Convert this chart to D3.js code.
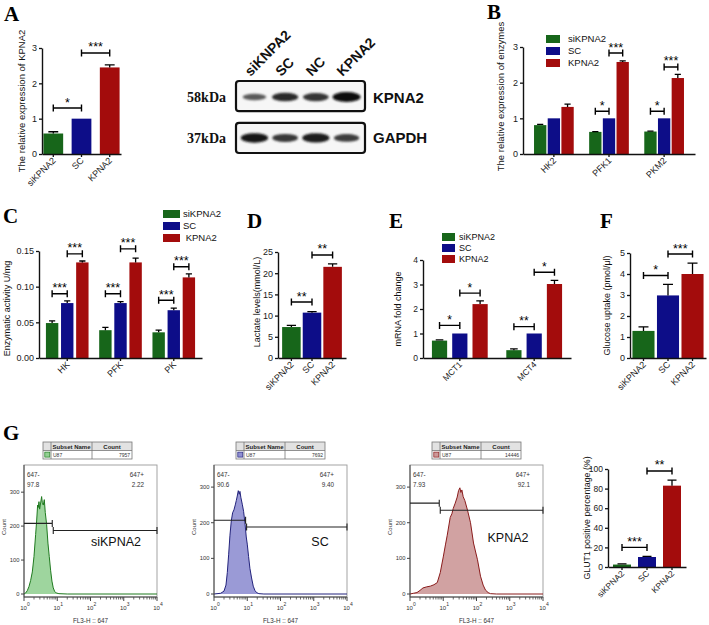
<!DOCTYPE html>
<html><head><meta charset="utf-8">
<script src="https://cdn.jsdelivr.net/npm/d3@7"></script>
<style>
body{margin:0;background:#fff}
svg{display:block}
</style></head><body>
<svg id="fig" width="709" height="625"></svg>
<script>
// ---------------- DATA ----------------
const seriesNames = ["siKPNA2","SC","KPNA2"];

// A
const catsA = ["siKPNA2","SC","KPNA2"];
const valsA = [0.58,1.0,2.45];
const errsA = [0.05,0,0.07];
const ticksA = [0,1,2,3];
const sigA = [[0,1,1.3,"*"],[1,2,2.86,"***"]];

// Blot
const blotLanes = ["siKNPA2","SC","NC","KPNA2"];
const blotRows = ["KPNA2","GAPDH"];
const blotMarkers = ["58kDa","37kDa"];
const bandKPNA2 = [0.45,0.78,0.72,1.0];
const bandGAPDH = [0.92,0.7,0.9,0.66];

// B
const genesB = ["HK2","PFK1","PKM2"];
const siB = [0.81,0.62,0.63], scB = [1,1,1], kpB = [1.32,2.58,2.13];
const siErrB = [0.02,0.01,0.01], scErrB = [0,0,0], kpErrB = [0.08,0.03,0.1];
const ticksB = [0,1,2,3];
const sigB = [[1,0,1,1.2,"*"],[1,1,2,2.83,"***"],[2,0,1,1.2,"*"],[2,1,2,2.44,"***"]];

// C
const enzC = ["HK","PFK","PK"];
const siC = [0.049,0.039,0.036], scC = [0.077,0.077,0.067], kpC = [0.134,0.134,0.113];
const siErrC = [0.003,0.004,0.003], scErrC = [0.003,0.002,0.003], kpErrC = [0.002,0.006,0.005];
const ticksC = [0,0.05,0.10,0.15];
const sigC = [[0,0,1,0.09,"***"],[0,1,2,0.146,"***"],[1,0,1,0.09,"***"],[1,1,2,0.153,"***"],[2,0,1,0.081,"***"],[2,1,2,0.128,"***"]];

// D
const catsD = ["siKPNA2","SC","KPNA2"];
const valsD = [7.3,10.7,21.5];
const errsD = [0.4,0.25,0.7];
const ticksD = [0,5,10,15,20,25];
const sigD = [[0,1,13.2,"**"],[1,2,24.3,"**"]];

// E
const genesE = ["MCT1","MCT4"];
const siE = [0.71,0.32], scE = [1.0,1.0], kpE = [2.2,3.02];
const siErrE = [0.03,0.05], scErrE = [0,0], kpErrE = [0.13,0.15];
const ticksE = [0,1,2,3,4];
const sigE = [[0,0,1,1.33,"*"],[0,1,2,2.65,"*"],[1,0,1,1.28,"**"],[1,1,2,3.5,"*"]];

// F
const catsF = ["siKPNA2","SC","KPNA2"];
const valsF = [1.29,2.98,4.0];
const errsF = [0.19,0.53,0.52];
const ticksF = [0,1,2,3,4,5];
const sigF = [[0,1,3.93,"*"],[1,2,4.95,"***"]];

// G flow cytometry
const flowSamples = ["siKPNA2","SC","KPNA2"];
const flowCounts = ["7957","7692","14446"];
const flowNeg = ["97.8","90.6","7.93"];
const flowPos = ["2.22","9.40","92.1"];
const flowYMax = [380,362,362];
const flowYTicks = [0,100,200,300];
const flowXTicks = [1,10,100,1000,10000];
const gateNegY = [208,207,255];
const gatePosY = [187,188,235];
const gateSplit = [0.85,0.95,0.88];
const histSi = [[0,0],[0.05,3],[0.1,10],[0.15,22],[0.2,40],[0.25,65],[0.3,110],[0.35,175],[0.38,215],[0.41,262],[0.43,255],[0.45,272],[0.47,250],[0.5,268],[0.53,287],[0.55,270],[0.58,262],[0.61,278],[0.64,240],[0.68,205],[0.72,150],[0.76,110],[0.8,70],[0.84,38],[0.88,18],[0.92,8],[0.97,3],[1.05,1],[1.3,0],[4,0]];
const histSC = [[0,0],[0.2,2],[0.3,8],[0.36,25],[0.4,60],[0.44,110],[0.48,165],[0.52,205],[0.56,228],[0.6,236],[0.64,250],[0.67,262],[0.7,275],[0.73,290],[0.76,280],[0.78,288],[0.81,270],[0.85,252],[0.89,232],[0.93,200],[0.97,160],[1.0,140],[1.04,105],[1.08,72],[1.13,45],[1.18,22],[1.23,10],[1.28,4],[1.35,1],[1.5,0],[4,0]];
const histKP = [[0,0],[0.1,2],[0.21,4],[0.3,10],[0.39,17],[0.5,20],[0.61,22],[0.72,26],[0.82,32],[0.91,60],[1.0,104],[1.07,140],[1.12,165],[1.21,215],[1.26,225],[1.3,240],[1.36,255],[1.42,272],[1.46,290],[1.5,298],[1.53,285],[1.56,292],[1.6,273],[1.65,262],[1.73,235],[1.82,200],[1.91,143],[2.03,96],[2.12,50],[2.2,25],[2.27,11],[2.35,4],[2.42,1],[2.6,0],[4,0]];

// GLUT1
const catsG = ["siKPNA2","SC","KPNA2"];
const valsG = [2.5,10.2,83];
const errsG = [0.7,0.6,5.6];
const ticksG = [0,20,40,60,80,100];
const sigG = [[0,1,20,"***"],[1,2,98,"**"]];

// ---------------- STYLE ----------------
const FONT = '"Liberation Sans", Arial, Helvetica, sans-serif';
const SERIF = '"Liberation Serif", "Times New Roman", serif';
const seriesColors = ["#17661a","#0d0d88","#a30c0c"];
const flowFill = ["#93d093","#8f8fd2","#cc9898"];
const flowStroke = ["#1f7a1f","#23237c","#8a1c1c"];

const svg = d3.select("#fig");
svg.append("rect").attr("width",709).attr("height",625).attr("fill","#fff");
const defs = svg.append("defs");
defs.append("filter").attr("id","blur").attr("x","-50%").attr("y","-150%").attr("width","200%").attr("height","400%")
  .append("feGaussianBlur").attr("stdDeviation",1.3);

function letter(t,x,y){
  svg.append("text").attr("x",x).attr("y",y).attr("font-family",SERIF).attr("font-weight","bold")
    .attr("font-size",21).attr("fill","#000").text(t);
}

function barChart(o){
  const g = svg.append("g");
  const xg = d3.scaleBand().domain(o.groups).range(o.xr).paddingInner(o.pi).paddingOuter(o.po);
  const ns = o.series.length;
  const xs = d3.scaleBand().domain(d3.range(ns)).range([0,xg.bandwidth()]).paddingInner(o.bp||0);
  const y = d3.scaleLinear().domain(o.yd).range(o.yr);
  const cx = (gi,si)=> xg(o.groups[gi]) + xs(si) + xs.bandwidth()/2;
  const data = [];
  o.series.forEach((vals,si)=>vals.forEach((v,gi)=>data.push({gi,si,v,e:o.errs[si][gi],c: ns===1? seriesColors[gi] : seriesColors[si]})));
  g.selectAll("rect.bar").data(data).join("rect").attr("class","bar")
    .attr("x",d=>xg(o.groups[d.gi])+xs(d.si)).attr("width",xs.bandwidth())
    .attr("y",d=>y(d.v)).attr("height",d=>y(0)-y(d.v)).attr("fill",d=>d.c);
  const cap = Math.min(xs.bandwidth()*0.5, 10);
  g.selectAll("path.err").data(data.filter(d=>d.e>0)).join("path").attr("class","err")
    .attr("d",d=>{const x=cx(d.gi,d.si), y1=y(d.v), y2=y(d.v+d.e); return `M${x},${y1}V${y2}M${x-cap/2},${y2}H${x+cap/2}`;})
    .attr("stroke","#000").attr("stroke-width",1.3).attr("fill","none");
  const ya = d3.axisLeft(y).tickValues(o.ticks).tickSizeInner(3).tickSizeOuter(0).tickPadding(2).tickFormat(o.fmt||d3.format("d"));
  const yag = g.append("g").attr("transform",`translate(${o.xr[0]},0)`).call(ya);
  const xa = d3.axisBottom(xg).tickSizeInner(3).tickSizeOuter(0).tickPadding(2);
  const xag = g.append("g").attr("transform",`translate(0,${y(0)})`).call(xa);
  [yag,xag].forEach(a=>{
    a.select(".domain").attr("stroke","#111").attr("stroke-width",1.4);
    a.selectAll(".tick line").attr("stroke","#111").attr("stroke-width",1.3);
    a.selectAll("text").attr("font-family",FONT).attr("font-size",o.fs||9).attr("fill","#1a1a1a");
  });
  xag.selectAll("text").attr("text-anchor","end").attr("x",-3).attr("y",4).attr("dy","0.35em").attr("transform","rotate(-45)");
  o.sig.forEach(s=>{
    const n = s.length===4 ? {ga:s[0],sa:0,gb:s[1],sb:0,v:s[2],t:s[3]} : {ga:s[0],sa:s[1],gb:s[0],sb:s[2],v:s[3],t:s[4]};
    const x1 = cx(n.ga,n.sa), x2 = cx(n.gb,n.sb), yv = y(n.v);
    g.append("path").attr("d",`M${x1},${yv-3.5}V${yv+3.5}M${x1},${yv}H${x2}M${x2},${yv-3.5}V${yv+3.5}`)
      .attr("stroke","#000").attr("stroke-width",1.4).attr("fill","none");
    g.append("text").attr("x",(x1+x2)/2).attr("y",yv-1.5).attr("text-anchor","middle")
      .attr("font-family",FONT).attr("font-size",o.ss||12.5).attr("fill","#000").text(n.t);
  });
  g.append("text").attr("transform",`translate(${o.ylx},${(o.yr[0]+o.yr[1])/2+(o.yldy||0)}) rotate(-90)`)
    .attr("text-anchor","middle").attr("font-family",FONT).attr("font-size",o.ylfs||9).attr("fill","#111").text(o.ylabel);
}

function legend(x, ys, sw, sh, tx, fs, names, padLast){
  const g = svg.append("g");
  names.forEach((nm,i)=>{
    g.append("rect").attr("x",x).attr("y",ys[i]-sh/2).attr("width",sw).attr("height",sh).attr("fill",seriesColors[i]);
    g.append("text").attr("x",tx).attr("y",ys[i]+fs*0.36).attr("font-family",FONT).attr("font-size",fs).attr("fill","#111")
      .text(padLast && i===names.length-1 ? "\u00a0"+nm : nm);
  });
}

// ---------------- PANEL A ----------------
letter("A",4,21);
barChart({groups:catsA, series:[valsA], errs:[errsA], xr:[42,121], pi:0.3, po:0.05, yd:[0,3], yr:[154,48],
  ticks:ticksA, sig:sigA, ylabel:"The relative expression of KPNA2", ylx:25, ylfs:9.5});

// ---------------- BLOT ----------------
(function(){
  const g = svg.append("g");
  const lane = d3.scaleBand().domain(blotLanes).range([236,365]).paddingOuter(0.1);
  const row = d3.scaleBand().domain(blotRows).range([81,153]).paddingInner(0.28);
  const intens = [bandKPNA2, bandGAPDH];
  const shade = d3.scaleLinear().domain([0,1]).range(["#9a9a9a","#0c0c0c"]);
  blotRows.forEach((r,ri)=>{
    g.append("rect").attr("x",236).attr("y",row(r)).attr("width",129).attr("height",row.bandwidth())
      .attr("rx",3).attr("fill","#f6f6f6").attr("stroke","#111").attr("stroke-width",2.2);
    const cy = row(r)+row.bandwidth()/2 + (ri===0?1:0);
    blotLanes.forEach((l,li)=>{
      const v = intens[ri][li];
      g.append("ellipse").attr("cx",lane(l)+lane.bandwidth()/2).attr("cy",cy)
        .attr("rx",10+4*v).attr("ry",1.8+3.2*v).attr("fill",shade(v)).attr("filter","url(#blur)");
    });
    g.append("text").attr("x",373).attr("y",cy+5.5).attr("font-family",FONT).attr("font-weight","bold")
      .attr("font-size",15).attr("fill","#111").text(r);
    g.append("text").attr("x",226).attr("y",cy+5).attr("text-anchor","end").attr("font-family",SERIF).attr("font-weight","bold")
      .attr("font-size",14).attr("fill","#111").text(blotMarkers[ri]);
  });
  blotLanes.forEach(l=>{
    g.append("text").attr("transform",`translate(${lane(l)+lane.bandwidth()/2-4},77) rotate(-45)`)
      .attr("font-family",FONT).attr("font-weight","bold").attr("font-size",14).attr("fill","#111").text(l);
  });
})();

// ---------------- PANEL B ----------------
letter("B",487,19);
barChart({groups:genesB, series:[siB,scB,kpB], errs:[siErrB,scErrB,kpErrB], xr:[523,695], pi:0.28, po:0.2, bp:0.1,
  yd:[0,3], yr:[154,47], ticks:ticksB, sig:sigB, ylabel:"The relative expression of enzymes", ylx:504, yldy:-4, ylfs:9.5});
legend(546,[39,51,63],14,8,568,9.5,seriesNames,false);

// ---------------- PANEL C ----------------
letter("C",3,223);
barChart({groups:enzC, series:[siC,scC,kpC], errs:[siErrC,scErrC,kpErrC], xr:[39,202], pi:0.2, po:0.13, bp:0.18,
  yd:[0,0.15], yr:[358,251], ticks:ticksC, fmt:d3.format(".2f"), sig:sigC, ylabel:"Enzymatic activity U/mg", ylx:10, yldy:4});
legend(163,[214,226,238],17,8,183,9.5,seriesNames,true);

// ---------------- PANEL D ----------------
letter("D",247,228);
barChart({groups:catsD, series:[valsD], errs:[errsD], xr:[278,346], pi:0.1, po:0.2, yd:[0,25], yr:[358,252],
  ticks:ticksD, sig:sigD, ylabel:"Lactate levels(mmol/L)", ylx:260, yldy:-3});

// ---------------- PANEL E ----------------
letter("E",389,228);
barChart({groups:genesE, series:[siE,scE,kpE], errs:[siErrE,scErrE,kpErrE], xr:[423,571], pi:0.25, po:0.12, bp:0.25,
  yd:[0,4], yr:[358,260], ticks:ticksE, sig:sigE, ylabel:"mRNA fold change", ylx:401, fs:8.5, ss:12});
legend(442,[237,248,259],13,8,459,9,seriesNames,false);

// ---------------- PANEL F ----------------
letter("F",600,228);
barChart({groups:catsF, series:[valsF], errs:[errsF], xr:[630,706], pi:0.1, po:0.1, yd:[0,5], yr:[358,253],
  ticks:ticksF, sig:sigF, ylabel:"Glucose uptake (pmol/\u03bcl)", ylx:610});

// ---------------- PANEL G ----------------
letter("G",3,440);
const flowLefts = [24,214,410];
const flowLabelX = [116,320,508];
const flowLabelY = [542,542,538];
const tableX = [43,236,432];
[histSi,histSC,histKP].forEach((hist,i)=>{
  const left = flowLefts[i], W = 133, right = left+W, top = 465, bottom = 597;
  const g = svg.append("g");
  const x = d3.scaleLog().domain([1,1e4]).range([left,right]);
  const y = d3.scaleLinear().domain([0,flowYMax[i]]).range([594,top]);
  // table
  const tx = tableX[i], ty = 442, tw = 89, th = 17;
  g.append("rect").attr("x",tx).attr("y",ty).attr("width",tw).attr("height",th/2).attr("fill","#e2e2e2");
  g.append("rect").attr("x",tx).attr("y",ty).attr("width",tw).attr("height",th).attr("fill","none").attr("stroke","#777").attr("stroke-width",0.8);
  g.append("path").attr("d",`M${tx},${ty+th/2}H${tx+tw}M${tx+8},${ty}V${ty+th}M${tx+49},${ty}V${ty+th}`).attr("stroke","#777").attr("stroke-width",0.8);
  g.append("text").attr("x",tx+28.5).attr("y",ty+6.6).attr("text-anchor","middle").attr("font-family",FONT).attr("font-weight","bold").attr("font-size",6).attr("fill","#222").text("Subset Name");
  g.append("text").attr("x",tx+69).attr("y",ty+6.6).attr("text-anchor","middle").attr("font-family",FONT).attr("font-weight","bold").attr("font-size",6).attr("fill","#222").text("Count");
  g.append("rect").attr("x",tx+1.8).attr("y",ty+th/2+1.6).attr("width",5).attr("height",5).attr("fill",flowFill[i]).attr("stroke",flowStroke[i]).attr("stroke-width",0.7);
  g.append("text").attr("x",tx+10).attr("y",ty+15).attr("font-family",FONT).attr("font-size",5).attr("fill","#333").text("U87");
  g.append("text").attr("x",tx+tw-2).attr("y",ty+15).attr("text-anchor","end").attr("font-family",FONT).attr("font-size",5).attr("fill","#333").text(flowCounts[i]);
  // frame
  g.append("rect").attr("x",left).attr("y",top).attr("width",W).attr("height",bottom-top).attr("fill","#fff").attr("stroke","#9a9a9a").attr("stroke-width",0.9);
  // histogram
  const area = d3.area().x(d=>x(Math.pow(10,d[0]))).y0(y(0)).y1(d=>y(d[1]));
  const line = d3.line().x(d=>x(Math.pow(10,d[0]))).y(d=>y(d[1]));
  g.append("path").datum(hist).attr("d",area).attr("fill",flowFill[i]).attr("fill-opacity",0.9);
  g.append("path").datum(hist).attr("d",line).attr("fill","none").attr("stroke",flowStroke[i]).attr("stroke-width",1);
  // axes lines
  g.append("path").attr("d",`M${left},${top}V${bottom}H${right}`).attr("stroke","#444").attr("stroke-width",1).attr("fill","none");
  flowYTicks.forEach(t=>{
    g.append("path").attr("d",`M${left-3},${y(t)}H${left}`).attr("stroke","#444");
    g.append("text").attr("x",left-4.5).attr("y",y(t)+2).attr("text-anchor","end").attr("font-family",FONT).attr("font-size",5.8).attr("fill","#333").text(t);
  });
  flowXTicks.forEach((t,k)=>{
    g.append("path").attr("d",`M${x(t)},${bottom}V${bottom+4}`).attr("stroke","#444");
    const tt = g.append("text").attr("x",x(t)+1).attr("y",bottom+13).attr("text-anchor","middle").attr("font-family",FONT).attr("font-size",6).attr("fill","#333");
    tt.append("tspan").text("10");
    tt.append("tspan").attr("dy",-4).attr("font-size",5).text(Math.round(Math.log10(t)));
    if (k<flowXTicks.length-1) d3.range(2,10).forEach(m=>{
      g.append("path").attr("d",`M${x(t*m)},${bottom}V${bottom+2.5}`).attr("stroke","#444").attr("stroke-width",0.8);
    });
  });
  // gates
  const xs = x(Math.pow(10,gateSplit[i]));
  const gn = y(gateNegY[i]), gp = y(gatePosY[i]);
  g.append("path").attr("d",`M${left},${gn}H${xs}M${xs},${gn-3.5}V${gn+3.5}`).attr("stroke","#222").attr("stroke-width",1.1).attr("fill","none");
  g.append("path").attr("d",`M${xs+1},${gp-3.5}V${gp+3.5}M${xs+1},${gp}H${right}M${right},${gp-3.5}V${gp+3.5}`).attr("stroke","#222").attr("stroke-width",1.1).attr("fill","none");
  // texts
  const t6 = (xx,yy,s,anc)=>g.append("text").attr("x",xx).attr("y",yy).attr("text-anchor",anc).attr("font-family",FONT).attr("font-size",6.3).attr("fill","#333").text(s);
  t6(left+3,477,"647-","start"); t6(left+3,487,flowNeg[i],"start");
  t6(right-13,477,"647+","end"); t6(right-13,487,flowPos[i],"end");
  g.append("text").attr("x",flowLabelX[i]).attr("y",flowLabelY[i]+4).attr("text-anchor","middle").attr("font-family",FONT).attr("font-size",12.5).attr("fill","#111").text(flowSamples[i]);
  g.append("text").attr("transform",`translate(${left-18},527) rotate(-90)`).attr("text-anchor","middle").attr("font-family",FONT).attr("font-size",6).attr("fill","#333").text("Count");
  g.append("text").attr("x",left+W/2).attr("y",623).attr("text-anchor","middle").attr("font-family",FONT).attr("font-size",6.3).attr("fill","#333").text("FL3-H :: 647");
});

barChart({groups:catsG, series:[valsG], errs:[errsG], xr:[608,686], pi:0.28, po:0.2, yd:[0,100], yr:[567,469],
  ticks:ticksG, sig:sigG, ylabel:"GLUT1 positive percentage (%)", ylx:590, ylfs:8.8, fs:8.5});
</script>
</body></html>
